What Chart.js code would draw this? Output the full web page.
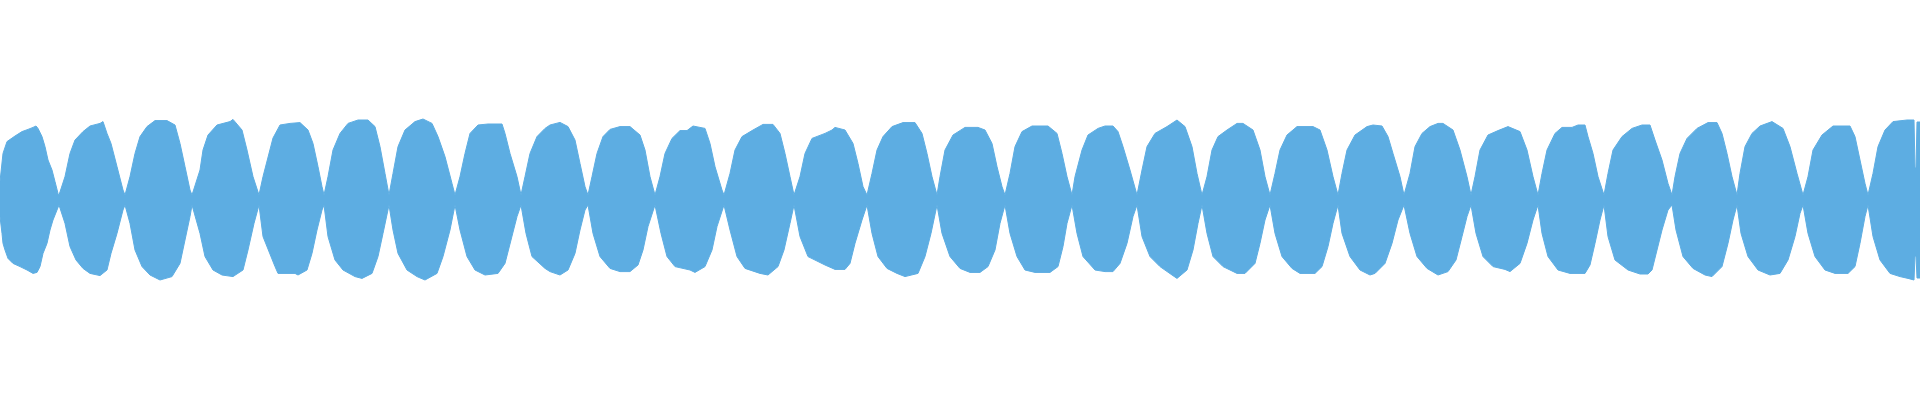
<!DOCTYPE html>
<html>
<head>
<meta charset="utf-8">
<script src="https://cdn.jsdelivr.net/npm/chart.js@4/dist/chart.umd.min.js"></script>
<style>
html,body{margin:0;padding:0;background:#ffffff;}
canvas{display:block;}
</style>
</head>
<body>
<canvas id="c" width="1920" height="400"></canvas>
<script>
// Waveform envelope (time in ms, amplitude -1..1)
const upperTimeMs = [
0,3,7,15,22,28,33,36,38,42,45,48,52,55,58,59,
65,70,75,83,90,100,103,107,111,117,123,125,
130,135,140,147,155,167,175,180,185,190,192,
200,203,208,217,230,233,242,247,253,259,
263,273,280,290,300,308,313,318,322,324,
328,333,340,348,358,368,375,380,385,389,
393,398,405,415,423,432,438,445,452,455,
460,465,470,478,488,502,505,510,517,521,
525,530,537,545,550,560,568,575,580,585,588,
592,597,603,610,620,630,640,645,650,655,
660,665,672,680,687,693,705,710,715,722,724,
730,735,742,753,763,773,780,785,790,794,
800,805,812,825,832,835,845,853,858,863,867,
872,877,883,892,903,915,922,927,932,937,
940,945,953,965,978,985,992,997,1002,1005,
1010,1015,1022,1032,1048,1057,1062,1067,1072,
1075,1082,1088,1098,1105,1113,1118,1123,1130,1137,
1142,1147,1155,1167,1177,1185,1192,1197,1202,
1207,1212,1218,1227,1237,1243,1253,1260,1265,1270,
1275,1280,1287,1297,1313,1320,1327,1333,1338,
1342,1347,1355,1367,1373,1382,1388,1393,1400,1404,
1410,1415,1422,1430,1438,1443,1453,1460,1467,1471,
1475,1480,1488,1498,1508,1520,1527,1533,1538,
1542,1547,1555,1562,1572,1578,1585,1588,1593,1598,1604,
1608,1613,1622,1632,1642,1650,1655,1662,1668,1672,
1675,1680,1687,1697,1708,1717,1722,1727,1732,1737,
1740,1745,1752,1760,1772,1783,1790,1797,1803,
1808,1813,1822,1833,1850,1855,1860,1865,1868,
1873,1878,1885,1893,1907,1914,1915,1916,1917,1920
];
const upperAmp = [
.092,.233,.292,.32,.342,.353,.363,.37,.358,.317,.267,.20,.15,.092,.033,.025,
.117,.233,.30,.342,.37,.383,.392,.333,.283,.167,.05,.025,
.117,.233,.317,.367,.397,.397,.375,.283,.167,.05,.025,
.15,.25,.325,.375,.392,.403,.35,.25,.117,.025,
.117,.31,.375,.383,.387,.35,.283,.167,.067,.025,
.117,.25,.333,.383,.40,.40,.367,.267,.133,.025,
.133,.267,.35,.392,.405,.383,.317,.217,.083,.025,
.117,.233,.333,.375,.38,.38,.333,.233,.117,.025,
.117,.233,.317,.358,.375,.388,.367,.30,.183,.067,.025,
.117,.233,.317,.353,.367,.367,.325,.25,.117,.025,
.117,.233,.308,.347,.347,.37,.358,.283,.167,.05,.025,
.133,.25,.317,.35,.378,.378,.333,.233,.117,.025,
.117,.233,.308,.333,.35,.363,.35,.283,.183,.067,.025,
.133,.25,.317,.367,.387,.387,.333,.233,.117,.025,
.117,.25,.325,.363,.363,.35,.283,.167,.067,.025,
.133,.267,.342,.37,.37,.333,.233,.117,.025,
.117,.25,.325,.358,.37,.37,.342,.267,.15,.025,
.15,.267,.333,.367,.40,.367,.267,.133,.025,
.117,.25,.317,.35,.383,.383,.35,.25,.117,.025,
.133,.25,.325,.367,.367,.35,.25,.117,.025,
.133,.25,.325,.367,.375,.37,.317,.233,.117,.025,
.133,.267,.333,.367,.383,.383,.35,.25,.117,.025,
.117,.25,.325,.347,.367,.342,.25,.117,.025,
.133,.25,.333,.363,.363,.375,.375,.317,.233,.117,.025,
.133,.25,.317,.358,.375,.375,.30,.20,.083,.025,
.117,.233,.308,.358,.387,.387,.333,.233,.117,.025,
.133,.267,.333,.37,.392,.358,.267,.133,.025,
.117,.25,.325,.37,.37,.317,.20,.083,.025,
.133,.267,.35,.392,.40,.40,.16,.16,.39,.39
];
const lowerTimeMs = [
0,2,3,5,8,13,20,27,33,37,40,43,47,50,53,57,59,
65,70,76,83,90,100,107,111,117,123,125,
130,135,142,150,160,172,180,185,190,192,
200,205,213,222,233,243,248,254,259,
263,275,278,295,298,307,312,317,322,324,
328,335,343,355,362,372,378,383,389,
393,398,407,417,425,437,443,450,455,
460,467,475,485,498,505,511,517,521,
526,532,545,550,560,568,575,580,585,588,
593,600,610,620,630,638,643,648,655,
661,667,675,690,695,705,712,717,724,
730,737,745,760,768,778,784,790,794,
800,808,825,835,845,850,855,862,867,
872,878,887,897,905,918,925,931,937,
942,950,960,970,980,988,995,1000,1005,
1010,1017,1025,1035,1050,1058,1063,1067,1072,
1077,1083,1095,1105,1113,1120,1127,1133,1137,
1142,1150,1160,1172,1177,1187,1193,1198,1202,
1207,1213,1223,1237,1245,1255,1260,1265,1270,
1275,1282,1292,1300,1315,1322,1328,1333,1338,
1342,1350,1360,1370,1375,1385,1392,1398,1404,
1410,1417,1427,1438,1448,1456,1462,1467,1471,
1476,1483,1493,1505,1510,1520,1527,1533,1538,
1542,1548,1558,1570,1585,1590,1595,1600,1604,
1608,1615,1628,1640,1648,1652,1657,1662,1668,1672,
1676,1683,1693,1705,1712,1722,1728,1733,1737,
1741,1748,1758,1770,1780,1788,1795,1800,1803,
1808,1815,1825,1835,1848,1855,1860,1865,1868,
1873,1880,1890,1900,1908,1914,1915,1916,1917,1920
];
const lowerAmp = [
-.083,-.167,-.217,-.25,-.292,-.317,-.333,-.35,-.367,-.362,-.333,-.267,-.217,-.15,-.10,-.05,-.025,
-.117,-.233,-.30,-.342,-.367,-.378,-.35,-.267,-.167,-.05,-.025,
-.117,-.25,-.333,-.375,-.40,-.383,-.317,-.20,-.083,-.025,
-.167,-.283,-.35,-.375,-.383,-.35,-.25,-.117,-.025,
-.183,-.333,-.367,-.367,-.375,-.35,-.267,-.15,-.05,-.025,
-.183,-.30,-.35,-.383,-.392,-.367,-.283,-.167,-.025,
-.15,-.267,-.35,-.383,-.40,-.367,-.283,-.15,-.025,
-.15,-.283,-.35,-.375,-.367,-.317,-.20,-.083,-.025,
-.167,-.283,-.342,-.358,-.375,-.35,-.267,-.15,-.05,-.025,
-.167,-.283,-.342,-.358,-.358,-.325,-.25,-.133,-.025,
-.167,-.283,-.333,-.35,-.362,-.333,-.25,-.133,-.025,
-.15,-.283,-.342,-.367,-.375,-.333,-.25,-.117,-.025,
-.183,-.283,-.325,-.347,-.347,-.317,-.217,-.10,-.025,
-.167,-.283,-.342,-.367,-.383,-.367,-.283,-.167,-.025,
-.167,-.283,-.342,-.362,-.362,-.333,-.25,-.117,-.025,
-.167,-.283,-.35,-.362,-.362,-.333,-.233,-.117,-.025,
-.167,-.283,-.35,-.358,-.358,-.317,-.217,-.083,-.025,
-.183,-.283,-.333,-.375,-.392,-.35,-.25,-.117,-.025,
-.167,-.283,-.333,-.367,-.367,-.317,-.217,-.10,-.025,
-.167,-.283,-.342,-.367,-.367,-.333,-.233,-.117,-.025,
-.167,-.283,-.35,-.375,-.367,-.317,-.217,-.10,-.025,
-.167,-.283,-.342,-.375,-.358,-.30,-.183,-.083,-.025,
-.167,-.283,-.333,-.347,-.358,-.317,-.217,-.10,-.025,
-.167,-.283,-.35,-.367,-.367,-.325,-.217,-.10,-.025,
-.183,-.30,-.35,-.37,-.37,-.35,-.25,-.15,-.05,-.025,
-.15,-.283,-.342,-.375,-.383,-.333,-.217,-.10,-.025,
-.167,-.283,-.35,-.375,-.367,-.30,-.183,-.067,-.025,
-.167,-.283,-.35,-.367,-.367,-.333,-.217,-.083,-.025,
-.183,-.30,-.367,-.383,-.392,-.40,-.28,-.28,-.39,-.39
];
const durationMs = 1920;
const waveColor = 'rgb(93,173,226)';

function toPoints(ts, vs) {
  const n = Math.min(ts.length, vs.length);
  const out = [];
  for (let i = 0; i < n; i++) out.push({x: ts[i], y: vs[i]});
  return out;
}

new Chart(document.getElementById('c'), {
  type: 'line',
  data: {
    datasets: [
      { label: 'upper', data: toPoints(upperTimeMs, upperAmp), borderColor: waveColor, backgroundColor: waveColor, borderWidth: 1, pointRadius: 0, tension: 0, fill: 'origin' },
      { label: 'lower', data: toPoints(lowerTimeMs, lowerAmp), borderColor: waveColor, backgroundColor: waveColor, borderWidth: 1, pointRadius: 0, tension: 0, fill: 'origin' }
    ]
  },
  options: {
    responsive: false,
    animation: false,
    layout: { padding: 0 },
    plugins: { legend: { display: false }, tooltip: { enabled: false } },
    scales: {
      x: { type: 'linear', min: 0, max: durationMs, display: false },
      y: { type: 'linear', min: -1, max: 1, display: false }
    }
  }
});
</script>
</body>
</html>
